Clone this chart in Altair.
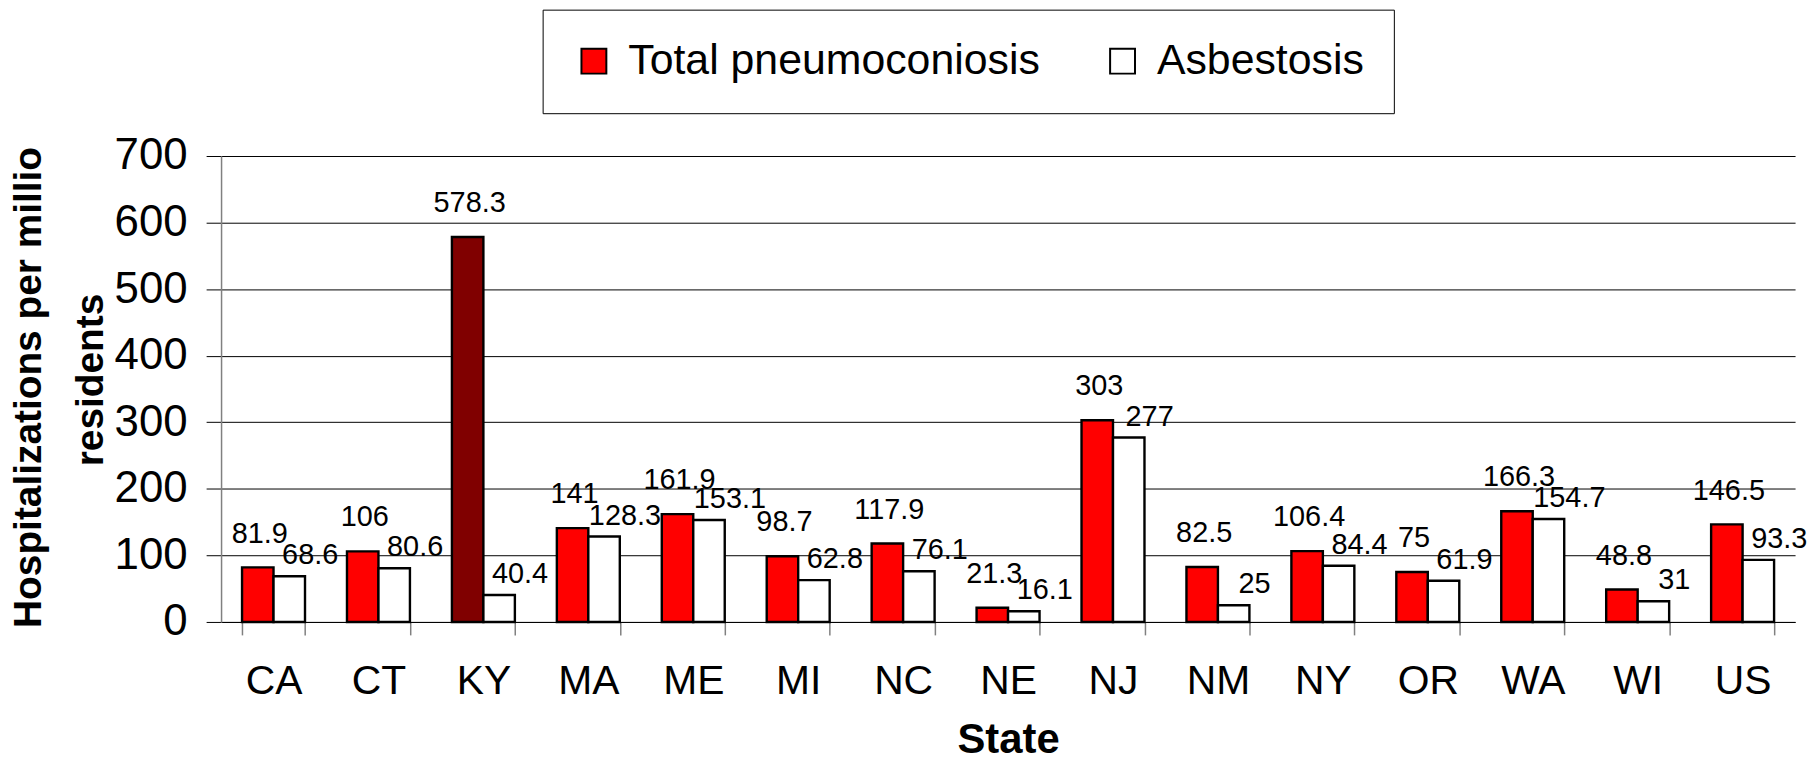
import altair as alt
import pandas as pd

# ---- data ----
states = ["CA", "CT", "KY", "MA", "ME", "MI", "NC", "NE", "NJ", "NM", "NY", "OR", "WA", "WI", "US"]
total_pneumoconiosis = [81.9, 106, 578.3, 141, 161.9, 98.7, 117.9, 21.3, 303, 82.5, 106.4, 75, 166.3, 48.8, 146.5]
asbestosis = [68.6, 80.6, 40.4, 128.3, 153.1, 62.8, 76.1, 16.1, 277, 25, 84.4, 61.9, 154.7, 31, 93.3]
series_names = ["Total pneumoconiosis", "Asbestosis"]
series_colors = ["#FF0000", "#FFFFFF"]
highlight_state = "KY"
highlight_color = "#800000"
y_ticks = [0, 100, 200, 300, 400, 500, 600, 700]
x_title = "State"
y_title_lines = ["Hospitalizations per million", "residents"]

rows = []
for s, t, a in zip(states, total_pneumoconiosis, asbestosis):
    rows.append({"state": s, "series": series_names[0], "value": t, "label": f"{t:g}"})
    rows.append({"state": s, "series": series_names[1], "value": a, "label": f"{a:g}"})
df = pd.DataFrame(rows)

FONT = "Liberation Sans"

x_enc = alt.X(
    "state:N",
    sort=states,
    scale=alt.Scale(paddingInner=0.4, paddingOuter=0.2),
    axis=alt.Axis(
        title=x_title,
        titleFont=FONT, titleFontSize=42, titleFontWeight="bold", titleColor="black",
        titleY=131, titleBaseline="alphabetic",
        labelFont=FONT, labelFontSize=41, labelColor="black", labelAngle=0,
        labelBaseline="alphabetic", labelPadding=59,
        tickBand="extent", tickSize=13, tickColor="#808080", tickWidth=1.5,
        domainColor="black", domainWidth=1, grid=False,
    ),
)
xoff = alt.XOffset(
    "series:N", sort=series_names,
    scale=alt.Scale(domain=series_names, paddingInner=0, paddingOuter=0),
)
y_enc = alt.Y(
    "value:Q",
    scale=alt.Scale(domain=[0, 700], nice=False),
    axis=alt.Axis(
        values=y_ticks, title=None,
        labelFont=FONT, labelFontSize=44, labelColor="black", labelPadding=19,
        tickSize=15, tickColor="black", domainColor="#808080", domainWidth=1.5,
        grid=True, gridColor="black", gridWidth=1, gridOpacity=1,
    ),
)

base = alt.Chart(df)

bars = base.mark_bar(stroke="black", strokeWidth=2.4).encode(
    x=x_enc,
    xOffset=xoff,
    y=y_enc,
    fill=alt.condition(
        f"datum.state == '{highlight_state}' && datum.series == '{series_names[0]}'",
        alt.value(highlight_color),
        alt.Fill(
            "series:N",
            sort=series_names,
            scale=alt.Scale(domain=series_names, range=series_colors),
            legend=alt.Legend(
                title=None, orient="none", legendX=323, legendY=-147,
                direction="horizontal", fillColor="white", strokeColor="black",
                padding=30, symbolType="square", symbolSize=625,
                symbolStrokeColor="black", symbolStrokeWidth=2,
                labelFont=FONT, labelFontSize=43, labelColor="black",
                labelOffset=13, columnPadding=61, labelLimit=1000,
            ),
        ),
    ),
)

labels_total = base.transform_filter(alt.datum.series == series_names[0]).mark_text(
    font=FONT, fontSize=29, color="black", baseline="alphabetic", align="center", dx=2, dy=-25
).encode(x=x_enc, xOffset=xoff, y=y_enc, text="label:N")

labels_asb = base.transform_filter(alt.datum.series == series_names[1]).mark_text(
    font=FONT, fontSize=29, color="black", baseline="alphabetic", align="center", dx=21, dy=-12
).encode(x=x_enc, xOffset=xoff, y=y_enc, text="label:N")

ytitle1 = alt.Chart(pd.DataFrame({"t": [y_title_lines[0]]})).mark_text(
    font=FONT, fontSize=39, fontWeight="bold", color="black", angle=270,
    align="left", baseline="alphabetic", limit=496, ellipsis="\u200b",
).encode(x=alt.value(-181), y=alt.value(474), text="t:N")

ytitle2 = alt.Chart(pd.DataFrame({"t": [y_title_lines[1]]})).mark_text(
    font=FONT, fontSize=39, fontWeight="bold", color="black", angle=270,
    align="center", baseline="alphabetic",
).encode(x=alt.value(-119), y=alt.value(225), text="t:N")

chart = (
    alt.layer(bars, labels_total, labels_asb, ytitle1, ytitle2)
    .properties(
        width=1581, height=468,
        padding={"left": 214, "top": 147, "right": 16, "bottom": 135},
        autosize=alt.AutoSizeParams(type="none"),
        background="white",
    )
    .configure_view(strokeWidth=0)
)

chart.save("out.html", embed_options={"renderer": "svg", "actions": False})
